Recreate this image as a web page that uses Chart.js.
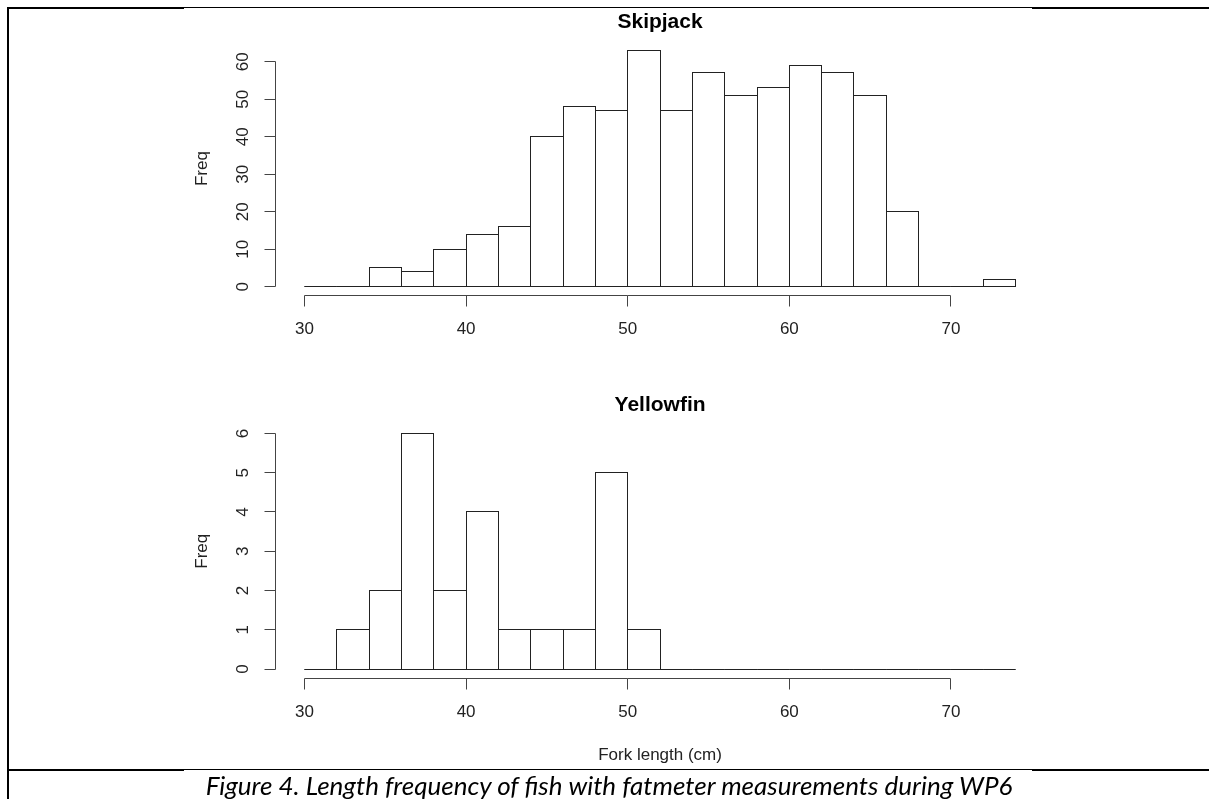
<!DOCTYPE html>
<html>
<head>
<meta charset="utf-8">
<script src="https://cdn.jsdelivr.net/npm/chart.js@4/dist/chart.umd.min.js"></script>
<style>
  html, body { margin: 0; padding: 0; background: #fff; }
  body { width: 1209px; height: 799px; position: relative; overflow: hidden; }
  canvas { position: absolute; left: 0; top: 0; }
  .rule { position: absolute; background: #000; }
  #caption {
    position: absolute; left: 9px; width: 1200px; top: 772px;
    text-align: center; font: italic 26px/26px Lato, sans-serif; color: #000;
  }
</style>
</head>
<body>
<div class="rule" style="left:7px;top:7px;width:2px;height:792px"></div>
<div class="rule" style="left:7px;top:7px;width:177px;height:2px"></div>
<div class="rule" style="left:184px;top:7px;width:848px;height:1px"></div>
<div class="rule" style="left:1032px;top:7px;width:177px;height:2px"></div>
<div class="rule" style="left:7px;top:769px;width:177px;height:2px"></div>
<div class="rule" style="left:184px;top:769px;width:848px;height:1px"></div>
<div class="rule" style="left:1032px;top:769px;width:177px;height:2px"></div>

<canvas id="skipjackChart" width="1209" height="799"></canvas>
<canvas id="yellowfinChart" width="1209" height="799"></canvas>
<div id="caption">Figure 4. Length frequency of fish with fatmeter measurements during WP6</div>

<script>
// bin edges (cm), 2 cm wide
const binEdges = [30, 32, 34, 36, 38, 40, 42, 44, 46, 48, 50, 52, 54, 56, 58, 60, 62, 64, 66, 68, 70, 72, 74];

const skipjackCounts = [0, 0, 5, 4, 10, 14, 16, 40, 48, 47, 63, 47, 57, 51, 53, 59, 57, 51, 20, 0, 0, 2];
const yellowfinCounts = [0, 1, 2, 6, 2, 4, 1, 1, 1, 5, 1, 0, 0, 0, 0, 0, 0, 0, 0, 0, 0, 0];

const xTicks = [30, 40, 50, 60, 70];
const skipjackYTicks = [0, 10, 20, 30, 40, 50, 60];
const yellowfinYTicks = [0, 1, 2, 3, 4, 5, 6];

const FONT = '"Liberation Sans", Arial, sans-serif';

function toPoints(counts) {
  return counts.map((c, i) => ({ x: (binEdges[i] + binEdges[i + 1]) / 2, y: c }));
}

function crisp(v) {
  return Math.round(v - 0.5) + 0.5;
}

// draws the histogram outlines and base-R style axes, title and labels
const rStyle = {
  id: "rStyle",
  afterDatasetsDraw(chart, args, opts) {
    const { ctx, scales: { x: xs, y: ys } } = chart;
    const y0 = ys.getPixelForValue(0);

    ctx.save();

    // bins, including empty ones (drawn as a flat line)
    ctx.strokeStyle = "#222";
    ctx.lineWidth = 1;
    chart.getDatasetMeta(0).data.forEach((bar) => {
      const { x, y, base, width } = bar.getProps(["x", "y", "base", "width"], true);
      const l = crisp(x - width / 2), r = crisp(x + width / 2);
      const t = crisp(y), b = crisp(base);
      ctx.strokeRect(l, t, r - l, b - t);
    });

    // x axis, offset below the baseline
    ctx.strokeStyle = "#444";
    const xa = crisp(y0 + 9);
    const xFirst = crisp(xs.getPixelForValue(xTicks[0]));
    const xLast = crisp(xs.getPixelForValue(xTicks[xTicks.length - 1]));
    ctx.beginPath();
    ctx.moveTo(xFirst, xa);
    ctx.lineTo(xLast, xa);
    xTicks.forEach((t) => {
      const px = crisp(xs.getPixelForValue(t));
      ctx.moveTo(px, xa);
      ctx.lineTo(px, xa + 11);
    });
    ctx.stroke();

    ctx.fillStyle = "#222";
    ctx.font = "17px " + FONT;
    ctx.textAlign = "center";
    ctx.textBaseline = "middle";
    xTicks.forEach((t) => {
      ctx.fillText(String(t), xs.getPixelForValue(t), y0 + 43);
    });

    // y axis
    const ya = crisp(xs.left - 29);
    const yt = opts.yTicks;
    ctx.beginPath();
    ctx.moveTo(ya, crisp(ys.getPixelForValue(yt[0])));
    ctx.lineTo(ya, crisp(ys.getPixelForValue(yt[yt.length - 1])));
    yt.forEach((t) => {
      const py = crisp(ys.getPixelForValue(t));
      ctx.moveTo(ya, py);
      ctx.lineTo(ya - 11, py);
    });
    ctx.stroke();

    yt.forEach((t) => {
      ctx.save();
      ctx.translate(xs.left - 61, ys.getPixelForValue(t));
      ctx.rotate(-Math.PI / 2);
      ctx.fillText(String(t), 0, 0);
      ctx.restore();
    });

    // y label, centred like R does
    const counts = chart.data.datasets[0].data.map((p) => p.y);
    ctx.save();
    ctx.translate(xs.left - 102, ys.getPixelForValue(Math.max(...counts) / 2));
    ctx.rotate(-Math.PI / 2);
    ctx.fillText("Freq", 0, 0);
    ctx.restore();

    if (opts.xLabel) {
      ctx.fillText(opts.xLabel, (xs.left + xs.right) / 2, y0 + 86);
    }

    ctx.fillStyle = "#000";
    ctx.font = "bold 21px " + FONT;
    ctx.fillText(opts.title, (xs.left + xs.right) / 2, ys.top - 19);

    ctx.restore();
  },
};

function histogram(canvasId, counts, yMax, padTop, padBottom, opts) {
  return new Chart(document.getElementById(canvasId), {
    type: "bar",
    data: {
      datasets: [
        {
          data: toPoints(counts),
          backgroundColor: "#fff",
          borderWidth: 0,
          barPercentage: 1,
          categoryPercentage: 1,
        },
      ],
    },
    options: {
      responsive: false,
      animation: false,
      events: [],
      layout: {
        padding: { left: 304.5, right: 193.4, top: padTop, bottom: padBottom },
      },
      scales: {
        x: {
          type: "linear",
          offset: false,
          min: binEdges[0],
          max: binEdges[binEdges.length - 1],
          ticks: { stepSize: 10 },
          display: false,
        },
        y: {
          min: 0,
          max: yMax,
          display: false,
        },
      },
      plugins: {
        legend: { display: false },
        tooltip: { enabled: false },
        rStyle: opts,
      },
    },
    plugins: [rStyle],
  });
}

histogram("skipjackChart", skipjackCounts, 65.52, 41, 799 - 286.7, {
  title: "Skipjack",
  yTicks: skipjackYTicks,
});

histogram("yellowfinChart", yellowfinCounts, 6.24, 424, 799 - 669, {
  title: "Yellowfin",
  yTicks: yellowfinYTicks,
  xLabel: "Fork length (cm)",
});
</script>
</body>
</html>
